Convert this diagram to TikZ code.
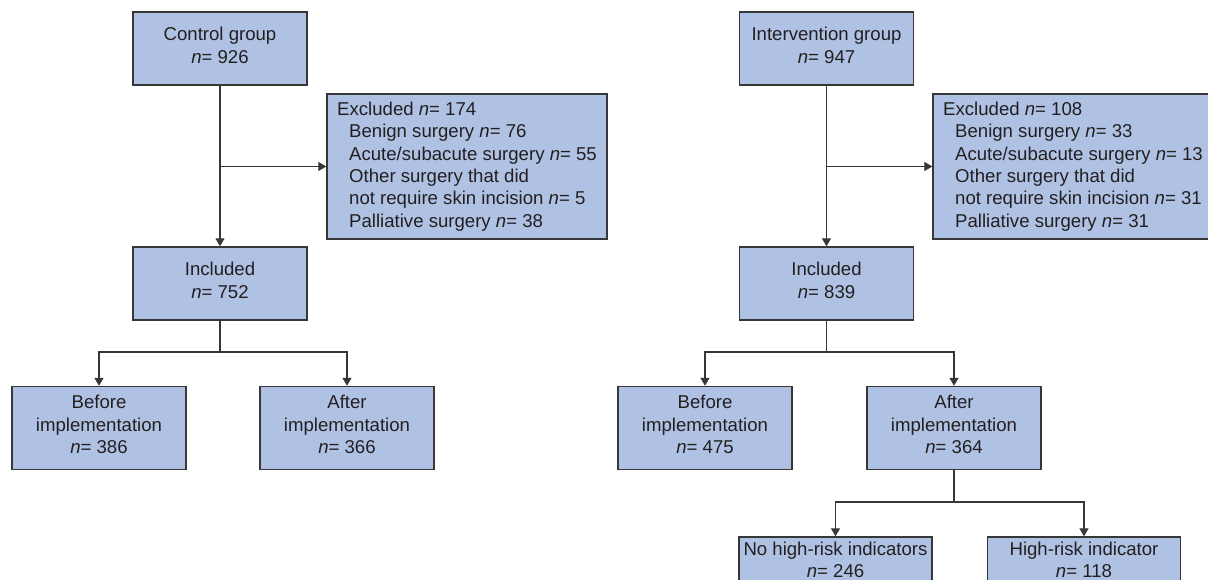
\documentclass[tikz,border=0pt]{standalone}
\usepackage{fontspec}
\setmainfont{Liberation Sans}
\usetikzlibrary{arrows.meta}
\definecolor{boxfill}{RGB}{176,194,228}
\definecolor{boxline}{RGB}{55,55,55}
\definecolor{inktext}{RGB}{35,31,32}
\newcommand{\nval}[1]{\textit{n}= #1}
\tikzset{
  box/.style={draw=boxline, fill=boxfill, line width=1.4pt, text=inktext,
    align=center, inner sep=0pt, minimum width=174pt, minimum height=73pt,
    execute at end node=\strut},
  exbox/.style={draw=boxline, fill=boxfill, line width=1.4pt, text=inktext,
    align=left, inner sep=0pt, minimum width=280pt, minimum height=145pt},
  arrow/.style={-{Triangle[length=8pt,width=9pt]}},
  link/.style={draw=boxline, line width=1.3pt}
}
\begin{document}
\begin{tikzpicture}[x=1pt, y=-1pt, font=\fontsize{18.6pt}{22.4pt}\selectfont]
  \clip (0,0) rectangle (1208,580);
  \fill[white] (0,0) rectangle (1208,580);

  % control arm
  \node[box] (ctrl) at (220,48.5) {Control group\\\nval{926}};
  \node[exbox] (ctrlex) at (467,166.5) {Excluded \nval{174}\\
    \hspace*{12pt}Benign surgery \nval{76}\\
    \hspace*{12pt}Acute/subacute surgery \nval{55}\\
    \hspace*{12pt}Other surgery that did\\
    \hspace*{12pt}not require skin incision \nval{5}\\
    \hspace*{12pt}Palliative surgery \nval{38}};
  \node[box] (ctrlin) at (220,283.5) {Included\\\nval{752}};
  \node[box, minimum height=83pt] (ctrlbefore) at (99,428) {Before\\implementation\\\nval{386}};
  \node[box, minimum height=83pt] (ctrlafter) at (347,428) {After\\implementation\\\nval{366}};

  % intervention arm
  \node[box] (int) at (826.5,48.5) {Intervention group\\\nval{947}};
  \node[exbox] (intex) at (1073,166.5) {Excluded \nval{108}\\
    \hspace*{12pt}Benign surgery \nval{33}\\
    \hspace*{12pt}Acute/subacute surgery \nval{13}\\
    \hspace*{12pt}Other surgery that did\\
    \hspace*{12pt}not require skin incision \nval{31}\\
    \hspace*{12pt}Palliative surgery \nval{31}};
  \node[box] (intin) at (826.5,283.5) {Included\\\nval{839}};
  \node[box, minimum height=83pt] (intbefore) at (705,428) {Before\\implementation\\\nval{475}};
  \node[box, minimum height=83pt] (intafter) at (954,428) {After\\implementation\\\nval{364}};
  \node[box, minimum width=193pt, minimum height=52pt] (nohr) at (835.5,563) {No high-risk indicators\\\nval{246}};
  \node[box, minimum width=193pt, minimum height=52pt] (hr) at (1084,563) {High-risk indicator\\\nval{118}};

  % split points
  \coordinate (ctrlsplit) at (220,352);
  \coordinate (intsplit) at (826.5,352);
  \coordinate (aftersplit) at (954,502);

  % connectors
  \draw[link, arrow] (ctrl) -- (ctrlin);
  \draw[link, arrow] (ctrl.south |- ctrlex.west) -- (ctrlex.west);
  \draw[link] (ctrlin) -- (ctrlsplit);
  \draw[link, arrow] (ctrlsplit) -| (ctrlbefore.north);
  \draw[link, arrow] (ctrlsplit) -| (ctrlafter.north);

  \draw[link, arrow] (int) -- (intin);
  \draw[link, arrow] (int.south |- intex.west) -- (intex.west);
  \draw[link] (intin) -- (intsplit);
  \draw[link, arrow] (intsplit) -| (intbefore.north);
  \draw[link, arrow] (intsplit) -| (intafter.north);

  \draw[link] (intafter) -- (aftersplit);
  \draw[link, arrow] (aftersplit) -| (nohr.north);
  \draw[link, arrow] (aftersplit) -| (hr.north);
\end{tikzpicture}
\end{document}
